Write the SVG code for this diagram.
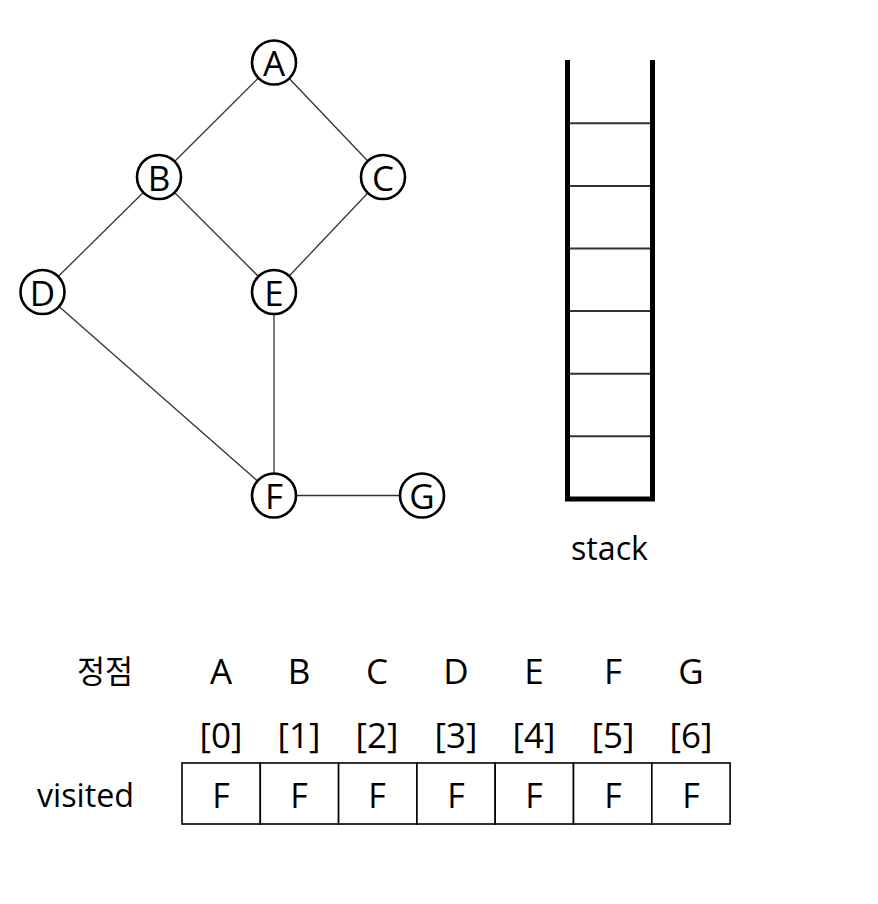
<svg xmlns="http://www.w3.org/2000/svg" width="878" height="904" viewBox="0 0 878 904">
<style>
  text { font-family: "Open Sans", "Noto Sans", "Noto Sans CJK KR", sans-serif; fill: #000; }
  .node circle { fill: #fff; stroke: #000; stroke-width: 2.6; }
  .node text { font-size: 35px; text-anchor: middle; }
  .edge { stroke: #333; stroke-width: 1.3; fill: none; }
  .wall { stroke: #000; stroke-width: 5; fill: none; stroke-linejoin: miter; }
  .slot { stroke: #333; stroke-width: 2; }
  .lbl { font-size: 35px; text-anchor: middle; }
  .val { font-size: 34px; text-anchor: middle; }
  .cell { fill: #fff; stroke: #000; stroke-width: 1.6; }
</style>
<rect width="878" height="904" fill="#fff"/>
<g id="connectors">
  <line class="edge" x1="274" y1="62.5" x2="159" y2="177"/>
  <line class="edge" x1="274" y1="62.5" x2="383" y2="177"/>
  <line class="edge" x1="159" y1="177" x2="42.5" y2="292"/>
  <line class="edge" x1="159" y1="177" x2="274" y2="292"/>
  <line class="edge" x1="383" y1="177" x2="274" y2="292"/>
  <line class="edge" x1="42.5" y1="292" x2="274" y2="495.5"/>
  <line class="edge" x1="274" y1="292" x2="274" y2="495.5"/>
  <line class="edge" x1="274" y1="495.5" x2="422" y2="495.5"/>
</g>
<g id="node-A" class="node"><circle cx="274" cy="62.5" r="22"/><text x="274" y="76">A</text></g>
<g id="node-B" class="node"><circle cx="159" cy="177" r="22"/><text x="159" y="190.5">B</text></g>
<g id="node-C" class="node"><circle cx="383" cy="177" r="22"/><text x="383" y="190.5">C</text></g>
<g id="node-D" class="node"><circle cx="42.5" cy="292" r="22"/><text x="42.5" y="305.5">D</text></g>
<g id="node-E" class="node"><circle cx="274" cy="292" r="22"/><text x="274" y="305.5">E</text></g>
<g id="node-F" class="node"><circle cx="274" cy="495.5" r="22"/><text x="274" y="509">F</text></g>
<g id="node-G" class="node"><circle cx="422" cy="495.5" r="22"/><text x="422" y="509">G</text></g>

<g id="stack">
  <line class="slot" x1="570" y1="123.3" x2="650" y2="123.3"/>
  <line class="slot" x1="570" y1="185.9" x2="650" y2="185.9"/>
  <line class="slot" x1="570" y1="248.5" x2="650" y2="248.5"/>
  <line class="slot" x1="570" y1="311.1" x2="650" y2="311.1"/>
  <line class="slot" x1="570" y1="373.7" x2="650" y2="373.7"/>
  <line class="slot" x1="570" y1="436.3" x2="650" y2="436.3"/>
  <path class="wall" d="M567.5 60 V499 H652.5 V60"/>
  <text x="571" y="560" style="font-size:33px" textLength="77" lengthAdjust="spacingAndGlyphs">stack</text>
</g>

<g id="table">
  <text x="77" y="683" style="font-size:32px;font-family:'Noto Sans CJK KR','Noto Sans',sans-serif" textLength="56" lengthAdjust="spacingAndGlyphs">정점</text>
  <text class="lbl" x="221" y="683.5">A</text>
  <text class="lbl" x="299" y="683.5">B</text>
  <text class="lbl" x="377" y="683.5">C</text>
  <text class="lbl" x="456" y="683.5">D</text>
  <text class="lbl" x="534" y="683.5">E</text>
  <text class="lbl" x="613" y="683.5">F</text>
  <text class="lbl" x="691" y="683.5">G</text>
  <text class="lbl" x="221" y="748">[0]</text>
  <text class="lbl" x="299" y="748">[1]</text>
  <text class="lbl" x="377" y="748">[2]</text>
  <text class="lbl" x="456" y="748">[3]</text>
  <text class="lbl" x="534" y="748">[4]</text>
  <text class="lbl" x="613" y="748">[5]</text>
  <text class="lbl" x="691" y="748">[6]</text>
  <text x="37" y="807" style="font-size:33px" textLength="97" lengthAdjust="spacingAndGlyphs">visited</text>
  <rect class="cell" x="182" y="763" width="78.3" height="61"/>
  <rect class="cell" x="260.3" y="763" width="78.3" height="61"/>
  <rect class="cell" x="338.6" y="763" width="78.3" height="61"/>
  <rect class="cell" x="416.9" y="763" width="78.3" height="61"/>
  <rect class="cell" x="495.2" y="763" width="78.3" height="61"/>
  <rect class="cell" x="573.5" y="763" width="78.3" height="61"/>
  <rect class="cell" x="651.8" y="763" width="78.3" height="61"/>
  <text class="val" x="221" y="808">F</text>
  <text class="val" x="299" y="808">F</text>
  <text class="val" x="377" y="808">F</text>
  <text class="val" x="456" y="808">F</text>
  <text class="val" x="534" y="808">F</text>
  <text class="val" x="613" y="808">F</text>
  <text class="val" x="691" y="808">F</text>
</g>
</svg>
